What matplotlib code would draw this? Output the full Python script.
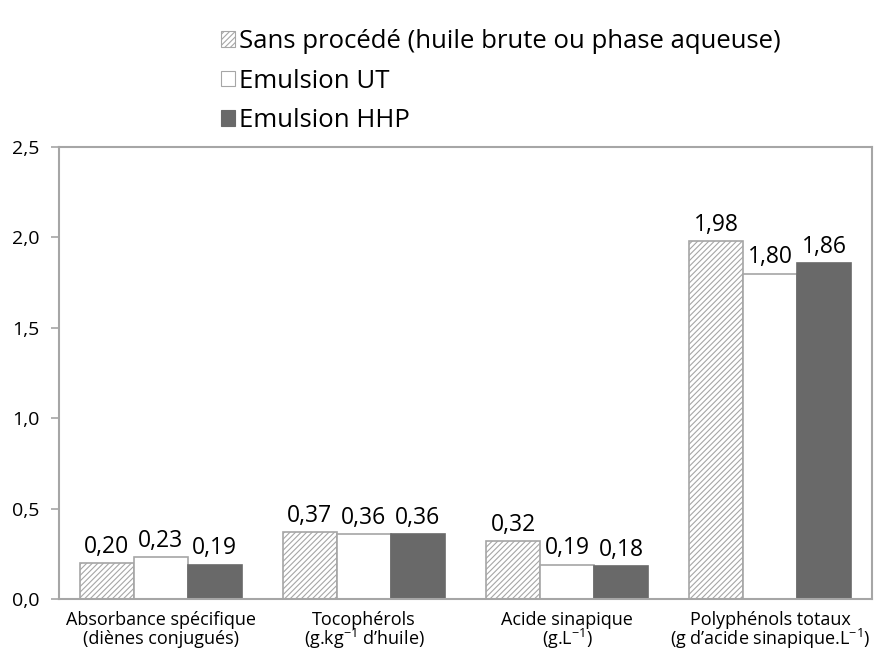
import numpy as np
import matplotlib.pyplot as plt
from matplotlib.patches import Patch

plt.rcParams["font.family"] = ["Open Sans", "DejaVu Sans"]
plt.rcParams["mathtext.fontset"] = "custom"
plt.rcParams["mathtext.rm"] = "Open Sans"
plt.rcParams["mathtext.it"] = "Open Sans"
plt.rcParams["hatch.color"] = "#a6a6a6"
plt.rcParams["hatch.linewidth"] = 0.8

# two-line category labels (second line holds the unit)
categories = [
    ("Absorbance spécifique", "(diènes conjugués)"),
    ("Tocophérols", "(g.kg$^{-1}$ d\u2019huile)"),
    ("Acide sinapique", "(g.L$^{-1}$)"),
    ("Polyphénols totaux", "(g d\u2019acide sinapique.L$^{-1}$)"),
]
series_names = [
    "Sans procédé (huile brute ou phase aqueuse)",
    "Emulsion UT",
    "Emulsion HHP",
]
sans_procede = [0.20, 0.37, 0.32, 1.98]
emulsion_ut = [0.23, 0.36, 0.19, 1.80]
emulsion_hhp = [0.19, 0.36, 0.18, 1.86]
yticks = [0.0, 0.5, 1.0, 1.5, 2.0, 2.5]

fig = plt.figure(figsize=(8.77, 6.57), dpi=100)
ax = fig.add_axes([0.0673, 0.0883, 0.927, 0.688])

grey = "#a6a6a6"
x = np.arange(len(categories))
w = 0.266
styles = [
    dict(facecolor="white", edgecolor=grey, hatch="//////"),
    dict(facecolor="white", edgecolor=grey),
    dict(facecolor="#696969", edgecolor="#696969"),
]
for i, (vals, st) in enumerate(zip([sans_procede, emulsion_ut, emulsion_hhp], styles)):
    bars = ax.bar(x + (i - 1) * w, vals, w, linewidth=1.2, **st, zorder=2)
    for b, v in zip(bars, vals):
        ax.annotate(f"{v:.2f}".replace(".", ","), (b.get_x() + b.get_width() / 2, v),
                    xytext=(0, 3), textcoords="offset points",
                    ha="center", va="bottom", fontsize=16.5)

ax.set_xlim(-0.5, len(categories) - 0.5)
ax.set_ylim(0, 2.5)
ax.set_yticks(yticks)
ax.set_yticklabels([f"{t:.1f}".replace(".", ",") for t in yticks], fontsize=14)
ax.set_xticks([])
ax.tick_params(axis="y", direction="out", length=6, color=grey, width=1.2, pad=8)
for s in ax.spines.values():
    s.set_color(grey)
    s.set_linewidth(1.5)

trans = ax.get_xaxis_transform()
for xi, (line1, line2) in zip(x, categories):
    ax.annotate(line1, (xi, 0), xycoords=trans, xytext=(0, -15), textcoords="offset points",
                ha="center", va="center", fontsize=13)
    ax.annotate(line2, (xi, 0), xycoords=trans, xytext=(0, -29), textcoords="offset points",
                ha="center", va="center", fontsize=13)

handles = [Patch(**st, linewidth=0.8) for st in styles]
fig.legend(handles, series_names, loc="upper left", bbox_to_anchor=(0.237, 0.975),
           frameon=False, fontsize=18.5, handlelength=0.55, handleheight=0.55,
           handletextpad=0.15, labelspacing=0.56, borderpad=0)

fig.savefig("out.png", dpi=100)
